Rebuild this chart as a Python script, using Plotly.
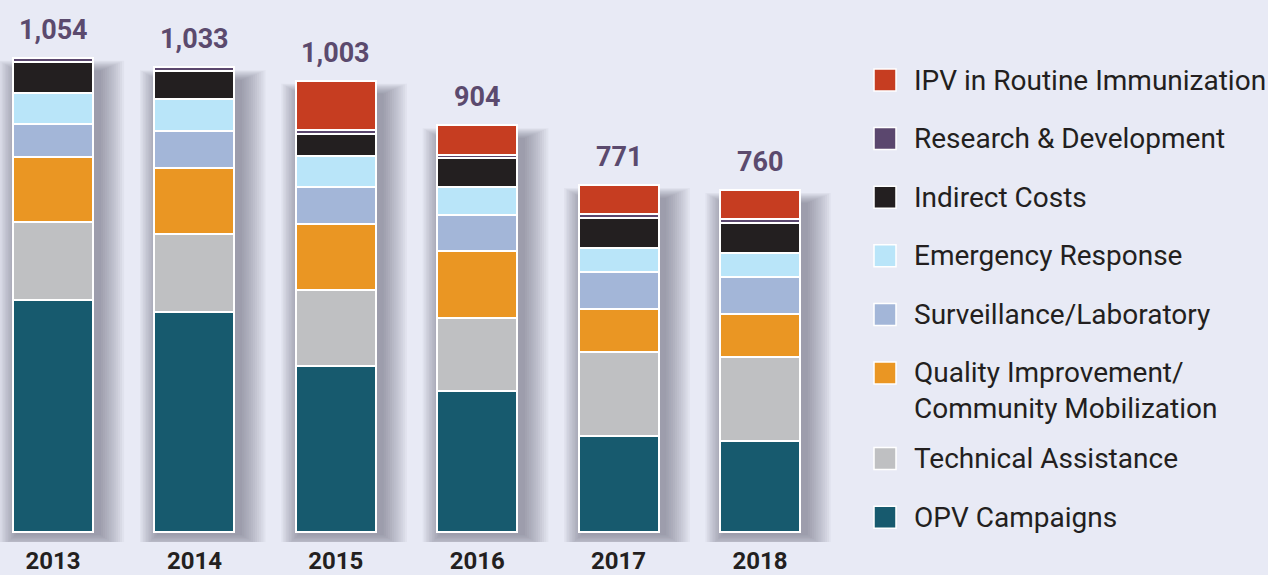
import plotly.graph_objects as go

years = ["2013", "2014", "2015", "2016", "2017", "2018"]
totals = [1054, 1033, 1003, 904, 771, 760]

# series, bottom to top
series_names = [
    "OPV Campaigns",
    "Technical Assistance",
    "Quality Improvement/<br>Community Mobilization",
    "Surveillance/Laboratory",
    "Emergency Response",
    "Indirect Costs",
    "Research & Development",
    "IPV in Routine Immunization",
]
opv = [516, 489, 369, 314, 213, 202]
technical = [173, 174, 169, 163, 187, 187]
quality = [145, 146, 147, 147, 95, 95]
surveillance = [73, 83, 83, 82, 84, 84]
emergency = [70, 70, 68, 62, 53, 52]
indirect = [68, 63, 50, 63, 66, 67]
research = [9, 8, 9, 8, 9, 9]
ipv = [0, 0, 108, 65, 64, 64]

series_values = [opv, technical, quality, surveillance, emergency, indirect, research, ipv]
colors = ["#175a6e", "#bfc0c2", "#ea9623", "#a3b6d8", "#b9e5f9", "#231f20", "#5b476e", "#c63d21"]

BG = "#e8eaf5"
W, H = 1268, 575
BAR_W = 0.566
FONT = "Roboto"
Y_MIN, Y_MAX = -22, 1183
PLOT_BOTTOM = 542  # pixel row of the plot-area bottom

fig = go.Figure()
for name, vals, col in zip(series_names, series_values, colors):
    fig.add_trace(go.Bar(
        x=years, y=vals, name=name.replace("<br>", " "),
        marker=dict(color=col, line=dict(color="white", width=2)),
        width=BAR_W, showlegend=False, hoverinfo="x+y+name",
    ))

# soft drop shadows behind the bars (derived from totals)
shapes = []
for i, t in enumerate(totals):
    for k in range(1, 13):
        shapes.append(dict(
            type="rect", xref="x", yref="y", layer="below",
            x0=i - BAR_W / 2 + 0.03 - k * 0.011,
            x1=i + BAR_W / 2 + 0.04 + k * 0.015,
            y0=-4 - k * 3.0,
            y1=t - 30 + k * 2.0,
            line=dict(width=0),
            fillcolor="rgba(70,72,100,0.05)",
        ))

annotations = []
for i, t in enumerate(totals):
    annotations.append(dict(
        x=i, y=t, xref="x", yref="y", text=f"{t:,}", showarrow=False,
        yanchor="bottom", yshift=10,
        font=dict(family=FONT, size=27, color="#5b4a6e", weight="bold"),
    ))

# manual legend (top to bottom)
legend_order = list(range(len(series_names)))[::-1]
center_y = 80.0
for idx in legend_order:
    name = series_names[idx]
    two_line = "<br>" in name
    sq_c = center_y
    text_c = center_y + (17 if two_line else 0)
    shapes.append(dict(
        type="rect", xref="paper", yref="paper", layer="above",
        x0=874 / W, x1=896 / W,
        y0=(PLOT_BOTTOM - (sq_c + 11)) / PLOT_BOTTOM,
        y1=(PLOT_BOTTOM - (sq_c - 11)) / PLOT_BOTTOM,
        fillcolor=colors[idx], line=dict(color="white", width=1.5),
    ))
    annotations.append(dict(
        x=912 / W, y=(PLOT_BOTTOM - text_c) / PLOT_BOTTOM, xref="paper", yref="paper",
        text=name, showarrow=False, xanchor="left", yanchor="middle", align="left",
        font=dict(family=FONT, size=28, color="#231f20"),
    ))
    center_y += 58.6 + (27 if two_line else 0)

fig.update_layout(
    width=W, height=H,
    margin=dict(l=0, r=0, t=0, b=H - PLOT_BOTTOM, autoexpand=False),
    paper_bgcolor=BG, plot_bgcolor=BG,
    barmode="stack",
    shapes=shapes, annotations=annotations,
    xaxis=dict(
        domain=[0, 0.6551], range=[-0.375, 5.5], type="category",
        showgrid=False, zeroline=False, showline=False, ticks="",
        tickfont=dict(family=FONT, size=24, color="#231f20", weight="bold"),
        ticklabelstandoff=2, automargin=False,
    ),
    yaxis=dict(range=[Y_MIN, Y_MAX], visible=False, showgrid=False, zeroline=False,
               automargin=False),
    font=dict(family=FONT),
)

fig.write_html(
    "out.html",
    config={"displayModeBar": False},
    post_script="document.body.style.margin='0';document.body.style.background='%s';" % BG,
)
